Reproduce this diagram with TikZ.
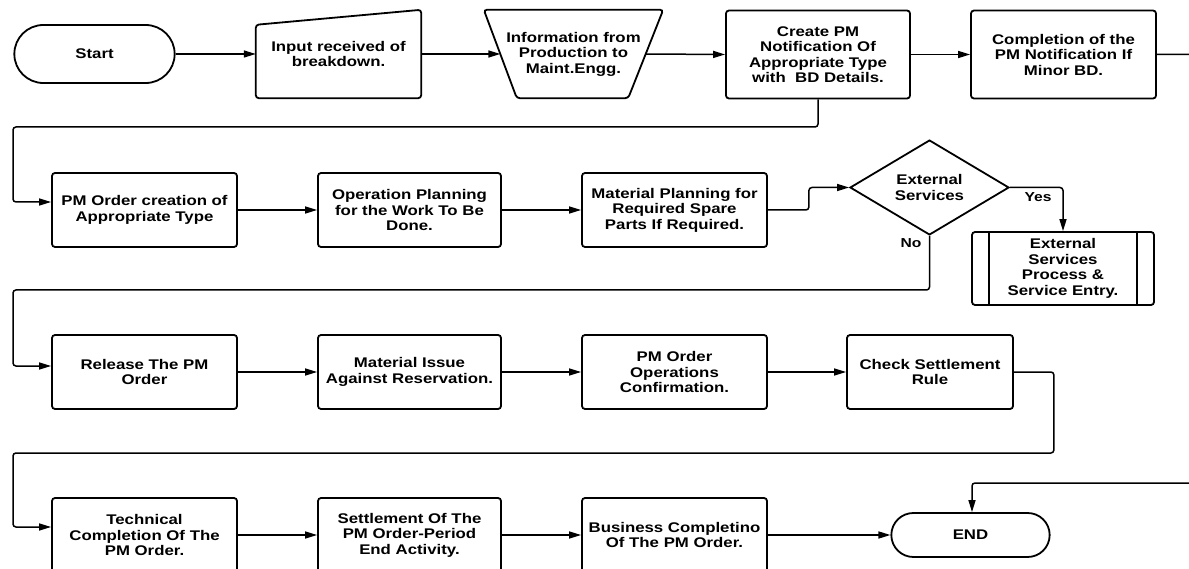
\documentclass[tikz,border=0pt]{standalone}
\usepackage{fontspec}
\setmainfont{Liberation Sans}[FakeStretch=1.2]
\usetikzlibrary{arrows.meta,shapes.geometric,shapes.misc,calc}
\begin{document}
\begin{tikzpicture}[x=1pt,y=-1pt,
  font=\fontsize{14}{15.5}\selectfont\bfseries,
  box/.style={draw, line width=1.8pt, rounded corners=3pt, minimum width=185pt,
    minimum height=74pt, align=center, inner sep=2pt},
  tallbox/.style={box, minimum height=88pt},
  ghost/.style={minimum width=#1, minimum height=88pt, align=center, inner sep=0pt},
  term/.style={draw, line width=1.8pt, rounded rectangle, align=center},
  decision/.style={draw, diamond, line width=1.8pt, minimum width=159pt,
    minimum height=85pt, align=center, inner sep=0pt},
  outline/.style={draw, line width=1.8pt, rounded corners=3pt},
  flow/.style={line width=1.5pt, rounded corners=3pt, -{Triangle[length=12pt,width=7pt]}},
  lbl/.style={font=\fontsize{13}{14}\selectfont\bfseries}
]
\useasboundingbox (0,0) rectangle (1189,569);
\clip (0,0) rectangle (1189,569);

% lanes used by the return connectors
\coordinate (lane1) at (13,127);
\coordinate (lane2) at (13,290);
\coordinate (lane3) at (13,453);
\coordinate (endlane) at (0,483);

% row 1
\node[term, minimum width=167pt, minimum height=58pt] (start) at (94.5,54) {Start};
\node[ghost=165pt] (input) at (338.5,54) {Input received of\\breakdown.};
\draw[outline] (input.south west) -- ([yshift=-15pt]input.north west)
  -- (input.north east) -- (input.south east) -- cycle;
\node[ghost=179pt] (info) at (573.5,54) {Information from\\Production to\\Maint.Engg.};
\draw[outline] (info.north west) -- (info.north east)
  -- ([xshift=-35pt]info.south east) -- ([xshift=33pt]info.south west) -- cycle;
\node[tallbox, minimum width=184pt] (create) at (818,54.5)
  {Create PM\\Notification Of\\Appropriate Type\\with\ \ BD Details.};
\node[tallbox] (compl) at (1063.5,54.5) {Completion of the\\PM Notification If\\Minor BD.};

% row 2
\node[box] (pmorder) at (144.5,210) {PM Order creation of\\Appropriate Type};
\node[box, minimum width=183pt] (opplan) at (409.5,210) {Operation Planning\\for the Work To Be\\Done.};
\node[box] (matplan) at (674.5,210) {Material Planning for\\Required Spare\\Parts If Required.};
\node[decision] (dec) at (929.5,187.5) {External\\Services};
\node[box, minimum width=182pt, minimum height=73pt] (ext) at (1063,268.5)
  {External\\Services\\Process \&\\Service Entry.};
\draw[line width=1.5pt] ([xshift=18pt]ext.north west) -- ([xshift=18pt]ext.south west);
\draw[line width=1.5pt] ([xshift=-18pt]ext.north east) -- ([xshift=-18pt]ext.south east);
\node[lbl] (yes) at (1038,197) {Yes};
\node[lbl] (no) at (911,243) {No};

% row 3
\node[box] (release) at (144.5,372) {Release The PM\\Order};
\node[box, minimum width=183pt] (matissue) at (409.5,372) {Material Issue\\Against Reservation.};
\node[box] (pmops) at (674.5,372) {PM Order\\Operations\\Confirmation.};
\node[box, minimum width=166pt] (check) at (930,372) {Check Settlement\\Rule};

% row 4
\node[box] (tech) at (144.5,535) {Technical\\Completion Of The\\PM Order.};
\node[box, minimum width=183pt] (settle) at (409.5,535) {Settlement Of The\\PM Order-Period\\End Activity.};
\node[box] (business) at (674.5,535) {Business Completino\\Of The PM Order.};
\node[term, minimum width=165pt, minimum height=44pt] (end) at (970.5,535) {END};

% connectors
\draw[flow] (start.east) -- (input.west);
\draw[flow] (input.east) -- ([xshift=16.5pt]info.west);
\draw[flow] ([xshift=-17.5pt]info.east) -- (create.west);
\draw[flow] (create.east) -- (compl.west);
\draw[flow] (compl.east) -- (1215,54.5) |- ([xshift=1.5pt]end.north |- endlane) -- ([xshift=1.5pt]end.north);
\draw[flow] (create.south) |- (lane1) |- ([yshift=8pt]pmorder.west);
\draw[flow] (pmorder.east) -- (opplan.west);
\draw[flow] (opplan.east) -- (matplan.west);
\draw[flow] (matplan.east) -- ++(41,0) |- (dec.west);
\draw[flow] (dec.east) -| (ext.north);
\draw[flow] (dec.south) |- (lane2) |- ([yshift=6pt]release.west);
\draw[flow] (release.east) -- (matissue.west);
\draw[flow] (matissue.east) -- (pmops.west);
\draw[flow] (pmops.east) -- (check.west);
\draw[flow] (check.east) -- ++(40,0) |- (lane3) |- ([yshift=8pt]tech.west);
\draw[flow] (tech.east) -- (settle.west);
\draw[flow] (settle.east) -- (business.west);
\draw[flow] (business.east) -- (end.west);
\end{tikzpicture}
\end{document}
